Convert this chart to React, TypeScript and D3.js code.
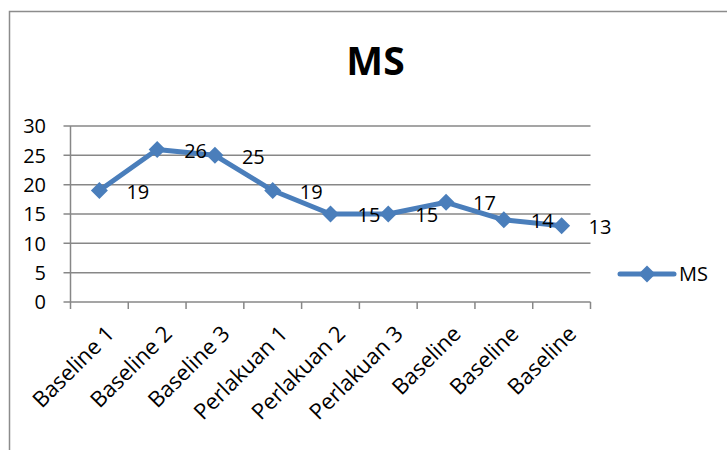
import React from "react";
import * as d3 from "d3";

const categories = [
  "Baseline 1",
  "Baseline 2",
  "Baseline 3",
  "Perlakuan 1",
  "Perlakuan 2",
  "Perlakuan 3",
  "Baseline",
  "Baseline",
  "Baseline",
];
const msValues = [19, 26, 25, 19, 15, 15, 17, 14, 13];
const yTicks = [0, 5, 10, 15, 20, 25, 30];
const seriesName = "MS";
const chartTitle = "MS";

const W = 727;
const H = 450;
const FONT = "'Open Sans', 'Liberation Sans', sans-serif";
const BLUE = "#4a7ebb";
const GRID = "#878787";

export default function App() {
  const left = 70.5;
  const right = 590.5;
  const top = 126;
  const bottom = 302;

  const x = d3
    .scaleBand<number>()
    .domain(categories.map((_, i) => i))
    .range([left, right])
    .paddingInner(0)
    .paddingOuter(0);
  const y = d3.scaleLinear().domain([0, 30]).range([bottom, top]);

  const cx = (i: number) => (x(i) as number) + x.bandwidth() / 2;

  const line = d3
    .line<number>()
    .x((_, i) => cx(i))
    .y((d) => y(d));

  const diamond = (px: number, py: number, r: number) =>
    `M${px},${py - r}L${px + r},${py}L${px},${py + r}L${px - r},${py}Z`;

  const boundaries = d3.range(categories.length + 1).map((i) =>
    i < categories.length ? (x(i) as number) : right
  );

  const legendY = 274;

  return (
    <svg
      width={W}
      height={H}
      style={{ position: "absolute", left: 0, top: 0, background: "#fff" }}
      fontFamily={FONT}
    >
      <rect x={0} y={0} width={W} height={H} fill="#fff" />
      <rect
        x={9.5}
        y={11.5}
        width={900}
        height={600}
        fill="none"
        stroke="#8c8c8c"
        strokeWidth={1.5}
      />
      <text
        x={375.5}
        y={75}
        textAnchor="middle"
        fontSize={39}
        fontWeight="bold"
        fill="#000"
      >
        {chartTitle}
      </text>

      {/* gridlines */}
      {yTicks.map((t) => (
        <line
          key={"g" + t}
          x1={left - 7}
          x2={right}
          y1={y(t)}
          y2={y(t)}
          stroke={GRID}
          strokeWidth={1.5}
        />
      ))}
      {/* y axis */}
      <line x1={left} x2={left} y1={top} y2={bottom} stroke={GRID} strokeWidth={1.5} />
      {/* x ticks */}
      {boundaries.map((b, i) => (
        <line
          key={"xt" + i}
          x1={b}
          x2={b}
          y1={bottom}
          y2={bottom + 7}
          stroke={GRID}
          strokeWidth={1.5}
        />
      ))}
      {/* y tick labels */}
      {yTicks.map((t) => (
        <text
          key={"yl" + t}
          x={46}
          y={y(t)}
          dy="0.36em"
          textAnchor="end"
          fontSize={20}
          fill="#000"
        >
          {t}
        </text>
      ))}
      {/* x labels */}
      {categories.map((c, i) => (
        <text
          key={"xl" + i}
          transform={`translate(${cx(i) + 5},${324}) rotate(-45)`}
          dy="0.72em"
          textAnchor="end"
          fontSize={22}
          fill="#000"
        >
          {c}
        </text>
      ))}

      {/* series line */}
      <path
        d={line(msValues) || ""}
        fill="none"
        stroke={BLUE}
        strokeWidth={5}
        strokeLinejoin="round"
      />
      {msValues.map((v, i) => (
        <path key={"m" + i} d={diamond(cx(i), y(v), 8.5)} fill={BLUE} />
      ))}
      {msValues.map((v, i) => (
        <text
          key={"dl" + i}
          x={cx(i) + 27}
          y={y(v) + 1}
          dy="0.36em"
          fontSize={20}
          fill="#000"
        >
          {v}
        </text>
      ))}

      {/* legend */}
      <line
        x1={620}
        x2={674}
        y1={legendY}
        y2={legendY}
        stroke={BLUE}
        strokeWidth={5}
        strokeLinecap="round"
      />
      <path d={diamond(647, legendY, 8.5)} fill={BLUE} />
      <text x={679} y={legendY} dy="0.36em" fontSize={20} fill="#000">
        {seriesName}
      </text>
    </svg>
  );
}
